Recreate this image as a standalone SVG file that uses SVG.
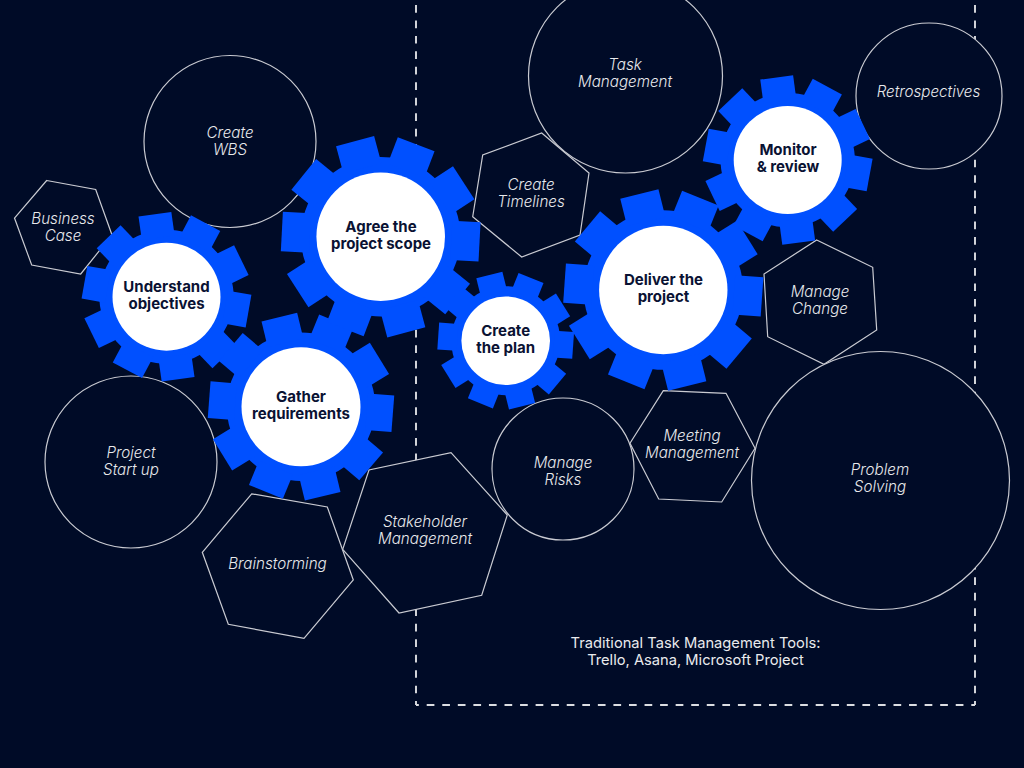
<svg xmlns="http://www.w3.org/2000/svg" width="1024" height="768" viewBox="0 0 1024 768">
<style>
.bg{fill:#000b27}
.o{fill:#000b27;stroke:#c9cbd2;stroke-width:1.2}
.d{fill:none;stroke:#dcdee2;stroke-width:1.9}
.dh{stroke-dasharray:7.7 7.86;stroke-dashoffset:4.86}
.dv{stroke-dasharray:7.7 7.77;stroke-dashoffset:3.81}
.g{fill:#0050ff}
.w{fill:#fff}
text{text-anchor:middle}
.l{font:italic 300 15.2px "Inter","Open Sans",sans-serif;fill:#e8e9ec}
.h{font:700 15px "Inter","Open Sans",sans-serif;fill:#0a1233}
.n{font:400 14.7px "Inter","Open Sans",sans-serif;fill:#e9eaed}
</style>
<defs>
<rect id="t" x="-19.5" y="-98" width="39" height="28"/>
<g id="gear"><circle r="79"/>
<use href="#t"/><use href="#t" transform="rotate(36)"/><use href="#t" transform="rotate(72)"/><use href="#t" transform="rotate(108)"/><use href="#t" transform="rotate(144)"/><use href="#t" transform="rotate(180)"/><use href="#t" transform="rotate(216)"/><use href="#t" transform="rotate(252)"/><use href="#t" transform="rotate(288)"/><use href="#t" transform="rotate(324)"/>
</g>
</defs>
<rect class="bg" width="1024" height="768"/>
<g id="connectors"><path class="d dh" d="M416 705H975"/><path class="d dv" d="M416 705V0"/><path class="d dv" d="M975 705V0"/></g>
<g id="create-wbs"><circle class="o" cx="230" cy="141.500" r="86"/><text class="l" x="230" y="137.500">Create</text><text class="l" x="230" y="154.500">WBS</text></g>
<g id="business-case"><polygon class="o" points="46.700,180.500 95.700,189.500 112,235 80.700,274 31.700,265 14.500,218"/><text class="l" x="63" y="223.500">Business</text><text class="l" x="63" y="240.500">Case</text></g>
<g id="project-start-up"><circle class="o" cx="131" cy="462" r="86"/><text class="l" x="131" y="457.500">Project</text><text class="l" x="131" y="474.500">Start up</text></g>
<g id="brainstorming"><polygon class="o" points="251.700,493.800 327.300,507 353.300,580 304,638.300 228.300,624.300 202.300,552.300"/><text class="l" x="277.500" y="568.500">Brainstorming</text></g>
<g id="stakeholder-management"><polygon class="o" points="451,452.700 507.300,515 481.700,595.300 399,613 342.700,549.300 369,470"/><text class="l" x="425" y="526.500">Stakeholder</text><text class="l" x="425" y="543.500">Management</text></g>
<g id="task-management"><circle class="o" cx="625.500" cy="76" r="97"/><text class="l" x="625" y="70">Task</text><text class="l" x="625" y="87">Management</text></g>
<g id="create-timelines"><polygon class="o" points="541.700,133 589,173 580,235 521.700,257 472.700,216.700 482.700,155"/><text class="l" x="531" y="189.500">Create</text><text class="l" x="531" y="206.500">Timelines</text></g>
<g id="retrospectives"><circle class="o" cx="929" cy="96" r="73"/><text class="l" x="928.500" y="96.500">Retrospectives</text></g>
<g id="manage-change"><polygon class="o" points="816.700,240 872.700,267.300 876.700,330 824,364.300 767.700,336.700 764,274"/><text class="l" x="820" y="296.500">Manage</text><text class="l" x="820" y="313.500">Change</text></g>
<g id="problem-solving"><circle class="o" cx="880.500" cy="480.500" r="129"/><text class="l" x="880" y="474.500">Problem</text><text class="l" x="880" y="491.500">Solving</text></g>
<g id="manage-risks"><circle class="o" cx="563" cy="469" r="71"/><text class="l" x="563" y="467.500">Manage</text><text class="l" x="563" y="484.500">Risks</text></g>
<g id="meeting-management"><polygon class="o" points="663.300,390.700 726,393.300 755,448.300 721.700,502 658.700,499 630,443.300"/><text class="l" x="692" y="440.500">Meeting</text><text class="l" x="692" y="457.500">Management</text></g>
<g id="understand"><use class="g" href="#gear" transform="translate(166.500,296.700) rotate(-8) scale(.85)"/><circle class="w" cx="166.500" cy="296.700" r="54"/><text class="h" x="166.500" y="292">Understand</text><text class="h" x="166.500" y="309">objectives</text></g>
<g id="gather"><use class="g" href="#gear" transform="translate(301,406.700) rotate(-13.600) scale(.94)"/><circle class="w" cx="301" cy="406.700" r="59.500"/><text class="h" x="301" y="402">Gather</text><text class="h" x="301" y="419">requirements</text></g>
<g id="agree"><use class="g" href="#gear" transform="translate(380.700,236.700) rotate(-15) scale(1.01)"/><circle class="w" cx="380.700" cy="236.700" r="64.300"/><text class="h" x="381" y="232">Agree the</text><text class="h" x="381" y="249">project scope</text></g>
<g id="create-plan"><use class="g" href="#gear" transform="translate(505.700,340.700) rotate(-14) scale(.69)"/><circle class="w" cx="505.700" cy="340.700" r="44.300"/><text class="h" x="505.700" y="336">Create</text><text class="h" x="505.700" y="353">the plan</text></g>
<g id="deliver"><use class="g" href="#gear" transform="translate(663.300,290) rotate(-14) scale(1.01)"/><circle class="w" cx="663.300" cy="290" r="64.200"/><text class="h" x="663.500" y="285">Deliver the</text><text class="h" x="663.500" y="302">project</text></g>
<g id="monitor"><use class="g" href="#gear" transform="translate(787.700,160) rotate(-7.600) scale(.85)"/><circle class="w" cx="787.700" cy="160" r="54"/><text class="h" x="788" y="155">Monitor</text><text class="h" x="788" y="172">&amp; review</text></g>
<g id="tools-note"><text class="n" x="695.500" y="648">Traditional Task Management Tools:</text><text class="n" x="695.500" y="665">Trello, Asana, Microsoft Project</text></g>
</svg>
